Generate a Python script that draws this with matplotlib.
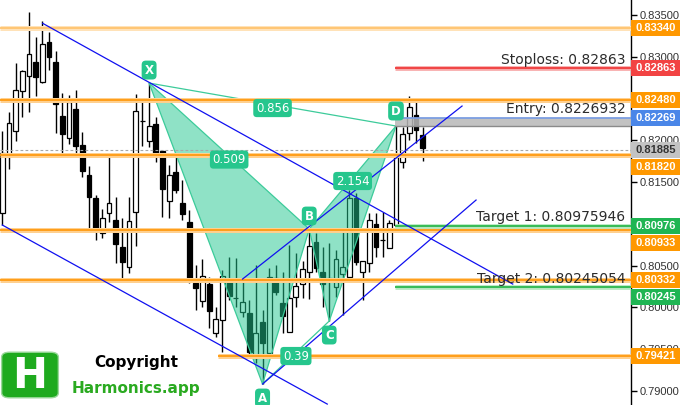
import matplotlib

matplotlib.use("Agg")
import matplotlib.pyplot as plt
import matplotlib.transforms as mtransforms
import numpy as np
from matplotlib.patches import FancyBboxPatch, Polygon, Rectangle

# candles (open, high, low, close)
opens = [0.81130, 0.81824, 0.82112, 0.82590, 0.82770, 0.82937, 0.82698, 0.83177, 0.82937, 0.82291,
         0.82028, 0.82375, 0.81944, 0.81585, 0.81310, 0.80891, 0.81130, 0.81047, 0.80723, 0.80484,
         0.81142, 0.82231, 0.81992, 0.82195, 0.81872, 0.81274, 0.81621, 0.81250, 0.81023, 0.80292,
         0.80077, 0.80280, 0.79694, 0.79850, 0.80328, 0.80113, 0.79945, 0.79934, 0.79395, 0.79826,
         0.79455, 0.80352, 0.80053, 0.79706, 0.80125, 0.80280, 0.80424, 0.80783, 0.80424, 0.80316,
         0.80245, 0.80400, 0.80364, 0.81310, 0.80424, 0.80532, 0.80999, 0.80807, 0.80711, 0.80987,
         0.81741, 0.82088, 0.82303, 0.82064]
highs = [0.82112, 0.82339, 0.82926, 0.82842, 0.83536, 0.83237, 0.83428, 0.83297, 0.83069, 0.82567,
         0.82543, 0.82602, 0.82100, 0.81693, 0.81346, 0.81178, 0.81848, 0.81322, 0.81070, 0.81322,
         0.82555, 0.82471, 0.82686, 0.82279, 0.81884, 0.81705, 0.81824, 0.81525, 0.81166, 0.80508,
         0.80580, 0.80364, 0.80005, 0.80448, 0.80604, 0.80592, 0.80352, 0.80089, 0.80508, 0.79969,
         0.80472, 0.80508, 0.80424, 0.80747, 0.80652, 0.80556, 0.80939, 0.80891, 0.80723, 0.80771,
         0.80688, 0.80951, 0.81406, 0.81370, 0.80556, 0.81130, 0.81130, 0.81142, 0.81047, 0.82172,
         0.82160, 0.82531, 0.82471, 0.82160]
lows = [0.80987, 0.81657, 0.81992, 0.82279, 0.82339, 0.82531, 0.82686, 0.82842, 0.82088, 0.81848,
        0.81956, 0.81800, 0.81561, 0.80951, 0.80807, 0.80831, 0.81023, 0.80532, 0.80316, 0.80412,
        0.80735, 0.81932, 0.81920, 0.81741, 0.81082, 0.81070, 0.81370, 0.81047, 0.80292, 0.79969,
        0.80005, 0.79754, 0.79646, 0.79467, 0.80089, 0.80005, 0.79886, 0.79431, 0.79335, 0.79084,
        0.79455, 0.80149, 0.79694, 0.79706, 0.80005, 0.80113, 0.80101, 0.80424, 0.80005, 0.79838,
        0.80125, 0.79910, 0.80304, 0.80508, 0.80089, 0.80424, 0.80604, 0.80604, 0.80711, 0.80903,
        0.81669, 0.82004, 0.81968, 0.81753]
closes = [0.81848, 0.82207, 0.82602, 0.82830, 0.83033, 0.82758, 0.83153, 0.82997, 0.82435, 0.82076,
          0.82459, 0.81932, 0.81633, 0.81322, 0.80951, 0.81070, 0.81250, 0.80759, 0.80544, 0.81035,
          0.82351, 0.82231, 0.82172, 0.81812, 0.81418, 0.81585, 0.81406, 0.81118, 0.80316, 0.80233,
          0.80376, 0.79957, 0.79862, 0.80376, 0.80137, 0.80113, 0.80065, 0.79467, 0.79694, 0.79574,
          0.80364, 0.80185, 0.79898, 0.80113, 0.80256, 0.80460, 0.80735, 0.80472, 0.80280, 0.80352,
          0.80580, 0.80484, 0.81310, 0.80544, 0.80556, 0.81047, 0.80723, 0.80807, 0.81011, 0.81800,
          0.82076, 0.82399, 0.82124, 0.81908]

# harmonic pattern
point_names = ["X", "A", "B", "C", "D"]
point_idx = [22, 39, 46, 49, 59]
point_price = [0.82686, 0.79084, 0.80939, 0.79838, 0.82172]
ratio_text = ["0.509", "0.39", "2.154", "0.856"]
ratio_legs = [("X", "B"), ("A", "C"), ("B", "D"), ("X", "D")]

# channel lines: idx0, price0, idx1, price1
channel_lines = [
    (6.05, 0.83401, 76.5, 0.80280),
    (0.0, 0.80987, 48.7, 0.78844),
    (39.0, 0.79084, 71.0, 0.81286),
    (36.0, 0.80340, 68.9, 0.82411),
]

# levels
orange_levels = [0.83340, 0.82480, 0.81820, 0.80933, 0.80332, 0.79421]
orange_start = [None, None, None, None, None, 32.3]
last_price = 0.81885
stoploss = 0.82863
entry = 0.8226932
target1 = 0.80975946
target2 = 0.80245054

axis_values = [0.83340, 0.82863, 0.82480, 0.82269, 0.81885, 0.81820,
               0.80976, 0.80933, 0.80332, 0.80245, 0.79421]
axis_colors = ["#FF9800", "#F24343", "#FF9800", "#4A86E8", "#C3C3C3", "#FF9800",
               "#1FB553", "#FF9800", "#FF9800", "#1FB553", "#FF9800"]

yticks = [0.790, 0.795, 0.800, 0.805, 0.810, 0.815, 0.820, 0.825, 0.830, 0.835]
hidden_ticks = [0.810, 0.825]  # fully covered by price boxes

W, H = 680, 405
fig = plt.figure(figsize=(6.8, 4.05), dpi=100)
fig.patch.set_facecolor("white")
ax = fig.add_axes([0, 0, 631 / W, 1])
ax.set_xlim(-0.345, 94.22)
ax.set_ylim(0.78833, 0.83680)
px = (0.83680 - 0.78833) / H  # price per pixel

for s in ["left", "top", "bottom"]:
    ax.spines[s].set_visible(False)
ax.spines["right"].set_linewidth(1.0)
ax.yaxis.tick_right()
ax.set_xticks([])
ax.set_yticks(yticks)
ax.set_yticklabels(["" if v in hidden_ticks else f"{v:.5f}" for v in yticks],
                   family="Liberation Sans", fontsize=8, color="#333333")
ax.tick_params(axis="y", direction="out", length=4, width=1, pad=2)

# candles
idx = np.arange(len(opens))
o = np.array(opens)
c = np.array(closes)
up = c >= o
ax.vlines(idx, lows, highs, color="black", lw=1, zorder=2)
ax.bar(idx[up], np.maximum((c - o)[up], 0.00001), bottom=o[up], width=0.72,
       color="white", edgecolor="black", lw=0.9, zorder=2.1)
ax.bar(idx[~up], (o - c)[~up], bottom=c[~up], width=0.72,
       color="black", edgecolor="black", lw=0.9, zorder=2.1)

# pattern
pts = {n: (x, y) for n, x, y in zip(point_names, point_idx, point_price)}
teal = "#21C78F"
for tri in [("X", "A", "B"), ("B", "C", "D")]:
    ax.add_patch(Polygon([pts[n] for n in tri], closed=True, facecolor=teal, alpha=0.5,
                         edgecolor="none", zorder=3))
    ax.add_patch(Polygon([pts[n] for n in tri], closed=True, fill=False,
                         edgecolor="#3CCB9A", lw=0.9, zorder=3.1))
for a, b in [("X", "D"), ("A", "C")]:
    ax.plot([pts[a][0], pts[b][0]], [pts[a][1], pts[b][1]], color="#3CCB9A", lw=0.9, zorder=3.1)

# horizontal levels
x0, x1 = ax.get_xlim()
for lvl, st in zip(orange_levels, orange_start):
    xs = x0 if st is None else st
    top = lvl == orange_levels[0]
    ax.plot([xs, x1], [lvl, lvl], color="#FFE2B8" if top else "#FFD08F", lw=3.6,
            zorder=4, solid_capstyle="butt")
    ax.plot([xs, x1], [lvl, lvl], color="#FFC46E" if top else "#FF9A10", lw=1.3,
            zorder=4.1, solid_capstyle="butt")
ax.plot([x0, x1], [last_price, last_price], color="#A8A8A8", lw=0.8, ls=(0, (2.5, 2)), zorder=4)

d_idx = pts["D"][0] - 0.2
ax.plot([d_idx, x1], [stoploss, stoploss], color="#F8A8A8", lw=3.4, zorder=4, solid_capstyle="butt")
ax.plot([d_idx, x1], [stoploss, stoploss], color="#F03C3C", lw=1.3, zorder=4.1, solid_capstyle="butt")
for t in [target1, target2]:
    ax.plot([d_idx, x1], [t, t], color="#B5E8C0", lw=3.4, zorder=4, solid_capstyle="butt")
    ax.plot([d_idx, x1], [t, t], color="#2DB84D", lw=1.3, zorder=4.1, solid_capstyle="butt")

ax.add_patch(Rectangle((d_idx, pts["D"][1]), x1 - d_idx, entry - pts["D"][1],
                       facecolor="#B8B8B8", alpha=0.85, edgecolor="none", zorder=3.5))
ax.plot([d_idx, x1], [pts["D"][1], pts["D"][1]], color="#8A8A8A", lw=1, zorder=3.6)
ax.plot([d_idx, x1], [entry, entry], color="#7C9EE2", lw=1.3, zorder=3.6)

# channel lines
for xa, ya, xb, yb in channel_lines:
    ax.plot([xa, xb], [ya, yb], color="#1010F0", lw=0.9, zorder=4.5)

# annotation texts
trans = mtransforms.blended_transform_factory(ax.transAxes, ax.transData)
for label, val in [("Stoploss: 0.82863", stoploss), ("Entry: 0.8226932", entry),
                   ("Target 1: 0.80975946", target1), ("Target 2: 0.80245054", target2)]:
    ax.text(0.991, val + 8.5 * px, label, transform=trans, ha="right", va="center",
            fontsize=10, color="#2B2B2B", zorder=5)

# point labels
offsets = {"X": 13, "A": -14, "B": 13, "C": -14, "D": 15}
for n in point_names:
    x, y = pts[n]
    ax.text(x, y + offsets[n] * px, n, ha="center", va="center", fontsize=8.5,
            color="white", fontweight="bold", zorder=7,
            bbox=dict(boxstyle="round,pad=0.25,rounding_size=0.35", fc="#26C68D", ec="none"))
for txt, (a, b) in zip(ratio_text, ratio_legs):
    mx = (pts[a][0] + pts[b][0]) / 2
    my = (pts[a][1] + pts[b][1]) / 2 - 3.5 * px
    ax.text(mx, my, txt, ha="center", va="center", fontsize=8.5, color="white", zorder=7,
            bbox=dict(boxstyle="round,pad=0.22,rounding_size=0.3", fc="#26C68D", ec="none"))

# right axis price boxes, stacked so they don't overlap
box_h = 16 * px
placed = []
for val, col in sorted(zip(axis_values, axis_colors), key=lambda t: -t[0]):
    yc = val
    if placed and placed[-1] - yc < 17 * px:
        yc = placed[-1] - 17 * px
    placed.append(yc)
    ax.add_patch(Rectangle((1.0, yc - box_h / 2), 49 / 631, box_h, transform=trans,
                           facecolor=col, edgecolor="none", clip_on=False, zorder=6))
    ax.text(1.0 + 25 / 631, yc, f"{val:.5f}", transform=trans, ha="center", va="center",
            family="Liberation Sans", fontsize=8, fontweight="bold",
            color="#333333" if col == "#C3C3C3" else "white", clip_on=False, zorder=7)

# logo
fig.add_artist(FancyBboxPatch((3 / W, 1 - 397 / H), 54 / W, 44 / H,
                              boxstyle="round,pad=0.002,rounding_size=0.012",
                              transform=fig.transFigure, facecolor="#1EAA1E",
                              edgecolor="#9AD89A", lw=1))
fig.text(30 / W, 1 - 376 / H, "H", ha="center", va="center", fontsize=30,
         fontweight="bold", color="white")
fig.text(136 / W, 1 - 362 / H, "Copyright", ha="center", va="center", fontsize=11,
         fontweight="bold", color="black")
fig.text(136 / W, 1 - 388 / H, "Harmonics.app", ha="center", va="center", fontsize=11,
         fontweight="bold", color="#2AAA20")

fig.savefig("out.png", dpi=100, facecolor="white")
